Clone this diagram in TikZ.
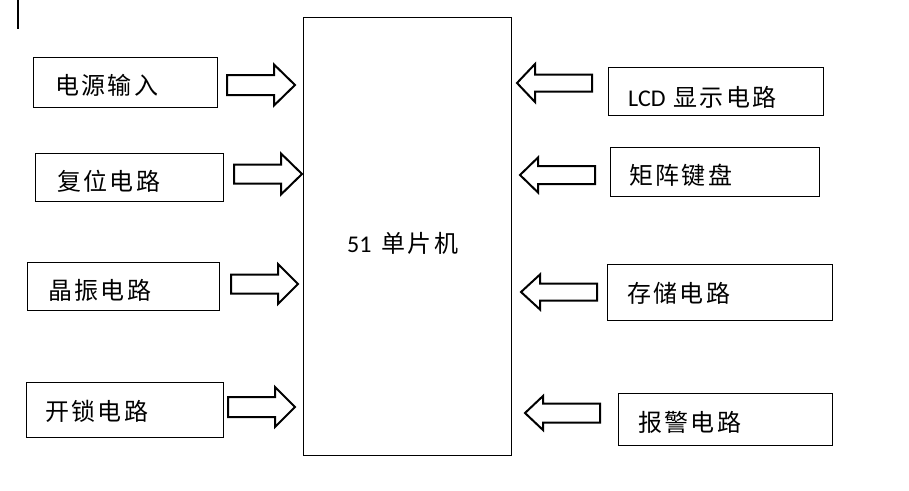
\documentclass[tikz,border=0pt]{standalone}
\usepackage{fontspec}
\setmainfont{Carlito}
\newfontfamily\cjk[LetterSpace=10]{Noto Sans CJK SC}
\newcommand{\barrow}[6]{%
  \draw[blockarr] (#1,#4-#6) -- (#3,#4-#6) -- (#3,#4-#5) -- (#2,#4) -- (#3,#4+#5) -- (#3,#4+#6) -- (#1,#4+#6) -- cycle;}
\tikzset{
  box/.style={draw=black, line width=1pt, inner sep=0pt, anchor=north west},
  lbl/.style={inner sep=0pt, anchor=west, font=\fontsize{24}{28}\selectfont},
  blockarr/.style={draw=black, line width=2pt, line join=miter, fill=white},
}
\begin{document}
\begin{tikzpicture}[x=1pt,y=-1pt]
\useasboundingbox (0,0) rectangle (909,490);
% cursor mark
\draw[line width=2pt] (18,0) -- (18,29);
% main chip
\node[box, minimum width=208pt, minimum height=438pt] (mcu) at (303,17) {};
\node[lbl] (mcut) at (347,243) {51\hspace{10pt}{\cjk 单片机}};
% left boxes
\node[box, minimum width=184pt, minimum height=50pt] (pwr) at (33,57) {};
\node[lbl] (pwrt) at (55,85) {\cjk 电源输入};
\node[box, minimum width=188pt, minimum height=48pt] (rst) at (35,153) {};
\node[lbl] (rstt) at (57,181) {\cjk 复位电路};
\node[box, minimum width=192pt, minimum height=48pt] (osc) at (27,262) {};
\node[lbl] (osct) at (48,290) {\cjk 晶振电路};
\node[box, minimum width=197pt, minimum height=55pt] (unl) at (26,382) {};
\node[lbl] (unlt) at (45,411) {\cjk 开锁电路};
% right boxes
\node[box, minimum width=215pt, minimum height=48pt] (lcd) at (608,67) {};
\node[lbl] (lcdt) at (628,97) {LCD\hspace{8pt}{\cjk 显示电路}};
\node[box, minimum width=209pt, minimum height=49pt] (key) at (610,147) {};
\node[lbl] (keyt) at (629,175) {\cjk 矩阵键盘};
\node[box, minimum width=225pt, minimum height=56pt] (mem) at (607,264) {};
\node[lbl] (memt) at (627,293) {\cjk 存储电路};
\node[box, minimum width=214pt, minimum height=52pt] (alm) at (618,393) {};
\node[lbl] (almt) at (638,422) {\cjk 报警电路};
% left arrows (to mcu)
\barrow{227}{295}{274}{85}{20.5}{10}
\barrow{234}{302}{281}{174}{20.5}{9.5}
\barrow{231}{298}{278}{284}{20}{9.5}
\barrow{228}{295}{275}{407}{20}{10}
% right arrows (from peripherals to mcu)
\barrow{592}{517}{535}{83}{19}{8.5}
\barrow{595}{520}{538}{175}{17.5}{9}
\barrow{597}{521}{540}{292}{17.5}{8.5}
\barrow{600}{525}{543}{413}{17}{9.5}
\end{tikzpicture}
\end{document}
